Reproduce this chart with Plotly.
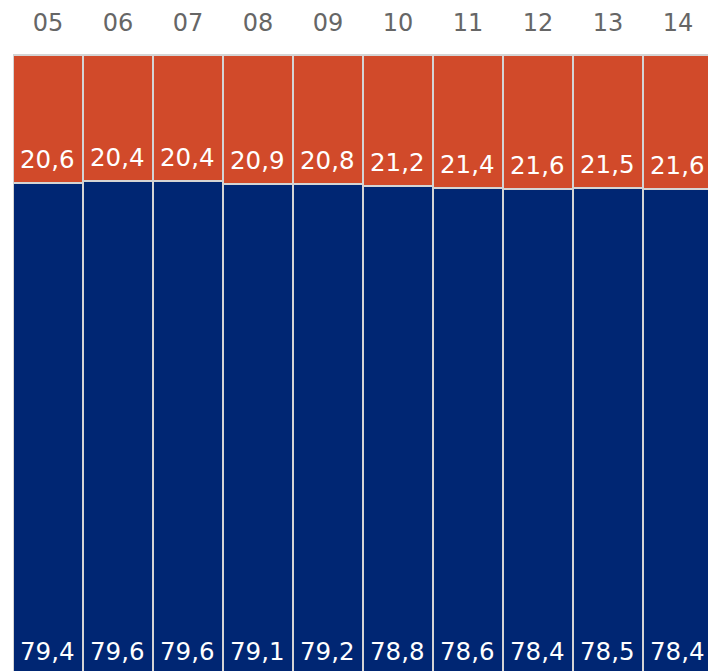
import plotly.graph_objects as go

# Share by year (percent), two components stacked to 100
years = ["05", "06", "07", "08", "09", "10", "11", "12", "13", "14"]
lower_share = [79.4, 79.6, 79.6, 79.1, 79.2, 78.8, 78.6, 78.4, 78.5, 78.4]
upper_share = [20.6, 20.4, 20.4, 20.9, 20.8, 21.2, 21.4, 21.6, 21.5, 21.6]

BLUE = "#002673"
ORANGE = "#D14A2A"
EDGE = "#D4D4D4"
FONT = "DejaVu Sans"


def fmt(v):
    return f"{v:.1f}".replace(".", ",")


fig = go.Figure()
for vals, color in [(lower_share, BLUE), (upper_share, ORANGE)]:
    fig.add_trace(go.Bar(
        x=years,
        y=vals,
        marker=dict(color=color, line=dict(color=EDGE, width=2)),
        hoverinfo="skip",
    ))

label_font = dict(family=FONT, size=24.5, color="white")
for i in range(len(years)):
    # upper segment: label just above its base (top of the lower segment)
    fig.add_annotation(
        x=i, y=lower_share[i], text=fmt(upper_share[i]),
        xref="x", yref="y",
        xanchor="center", yanchor="bottom", yshift=7,
        showarrow=False, font=label_font,
    )
    # lower segment: label along the bottom of the plot area
    fig.add_annotation(
        x=i, y=0, text=fmt(lower_share[i]),
        xref="x", yref="y domain",
        xanchor="center", yanchor="bottom", yshift=3,
        showarrow=False, font=label_font,
    )

fig.update_layout(
    width=708,
    height=671,
    barmode="stack",
    bargap=0,
    showlegend=False,
    paper_bgcolor="white",
    plot_bgcolor="white",
    margin=dict(l=13, r=0, t=54, b=0),
    xaxis=dict(
        type="category",
        side="top",
        range=[-0.5, 9.43],
        showgrid=False,
        zeroline=False,
        showline=False,
        ticks="",
        ticklabelstandoff=17,
        tickfont=dict(family=FONT, size=24, color="#666666"),
    ),
    yaxis=dict(
        range=[0.8, 100.1],
        showgrid=False,
        zeroline=False,
        showline=False,
        showticklabels=False,
        ticks="",
    ),
)

fig.write_html("out.html")
